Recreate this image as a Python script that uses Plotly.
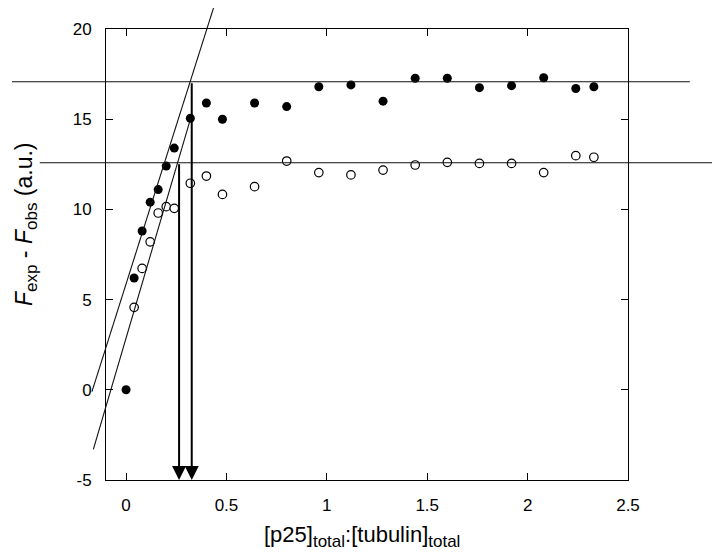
import plotly.graph_objects as go

# ---- data ----
ratio_filled = [0.0, 0.04, 0.08, 0.12, 0.16, 0.20, 0.24, 0.32, 0.40, 0.48, 0.64, 0.80,
                0.96, 1.12, 1.28, 1.44, 1.60, 1.76, 1.92, 2.08, 2.24, 2.33]
signal_filled = [0.0, 6.2, 8.8, 10.4, 11.1, 12.4, 13.4, 15.05, 15.9, 15.0, 15.9, 15.7,
                 16.8, 16.9, 16.0, 17.27, 17.27, 16.75, 16.86, 17.3, 16.7, 16.8]

ratio_open = [0.04, 0.08, 0.12, 0.16, 0.20, 0.24, 0.32, 0.40, 0.48, 0.64, 0.80,
              0.96, 1.12, 1.28, 1.44, 1.60, 1.76, 1.92, 2.08, 2.24, 2.33]
signal_open = [4.57, 6.73, 8.2, 9.8, 10.15, 10.06, 11.45, 11.85, 10.83, 11.26, 12.68,
               12.04, 11.91, 12.18, 12.46, 12.61, 12.55, 12.55, 12.04, 12.98, 12.89]

# fitted guide lines (x0, y0, x1, y1) in data units
fit_filled = [-0.17, -0.1, 0.445, 21.5]
fit_open = [-0.163, -3.3, 0.327, 15.25]
plateau_filled = [-0.568, 17.08, 2.808, 17.08]
plateau_open = [-0.43, 12.59, 3.0, 12.59]
# stoichiometry arrows (x, from y)
arrow_x = [0.264, 0.327]
arrow_from = [12.59, 17.08]

x_ticks = [0, 0.5, 1, 1.5, 2, 2.5]
x_ticktext = ["0", "0.5", "1", "1.5", "2", "2.5"]
y_ticks = [-5, 0, 5, 10, 15, 20]
y_ticktext = ["-5", "0", "5", "10", "15", "20"]

XR = [-0.1, 2.5]
YR = [-5, 20]
FONT = "Liberation Sans, Arial, Helvetica, sans-serif"


def fx(v):
    return (v - XR[0]) / (XR[1] - XR[0])


def fy(v):
    return (v - YR[0]) / (YR[1] - YR[0])


fig = go.Figure()
fig.add_trace(go.Scatter(x=ratio_filled, y=signal_filled, mode="markers",
                         marker=dict(color="black", size=9, line=dict(width=0)),
                         showlegend=False))
fig.add_trace(go.Scatter(x=ratio_open, y=signal_open, mode="markers",
                         marker=dict(color="white", size=8.5, line=dict(color="black", width=1.2)),
                         showlegend=False))

shapes = []
for seg in (fit_filled, fit_open, plateau_filled, plateau_open):
    shapes.append(dict(type="line", xref="x domain", yref="y domain",
                       x0=fx(seg[0]), y0=fy(seg[1]), x1=fx(seg[2]), y1=fy(seg[3]),
                       line=dict(color="#111111", width=1.1)))

annotations = []
for ax_, ay_ in zip(arrow_x, arrow_from):
    annotations.append(dict(x=ax_, y=YR[0], ax=ax_, ay=ay_, xref="x", yref="y",
                            axref="x", ayref="y", text="", showarrow=True,
                            arrowhead=2, arrowwidth=2, arrowsize=1.4,
                            arrowcolor="black", standoff=0, startstandoff=0))

annotations.append(dict(
    text="<i>F</i><sub><span style='font-size:17px'>exp</span></sub> - <i>F</i><sub><span style='font-size:17px'>obs</span></sub> (a.u.)",
    xref="paper", yref="paper", x=(26 - 106) / 522, y=(480 - 224) / 451,
    xanchor="center", yanchor="middle", textangle=-90, showarrow=False,
    font=dict(family=FONT, size=23, color="black")))
annotations.append(dict(
    text="[p25]<sub><span style='font-size:17px'>total</span></sub>:[tubulin]<sub><span style='font-size:17px'>total</span></sub>",
    xref="paper", yref="paper", x=(361.5 - 106) / 522, y=(480 - 536) / 451,
    xanchor="center", yanchor="middle", showarrow=False,
    font=dict(family=FONT, size=22, color="black")))

axis_common = dict(showline=True, linecolor="black", linewidth=1, mirror="ticks",
                   ticks="inside", ticklen=7, tickcolor="black", tickwidth=1,
                   showgrid=False, zeroline=False,
                   tickfont=dict(family=FONT, size=17, color="black"))

fig.update_layout(
    width=712, height=550,
    margin=dict(l=98, r=92, t=21, b=78),
    paper_bgcolor="white", plot_bgcolor="white",
    xaxis=dict(range=XR, tickvals=x_ticks, ticktext=x_ticktext, ticklabelstandoff=10, **axis_common),
    yaxis=dict(range=YR, tickvals=y_ticks, ticktext=y_ticktext, ticklabelstandoff=10, **axis_common),
    shapes=shapes, annotations=annotations,
    showlegend=False,
)

fig.write_html("out.html")
